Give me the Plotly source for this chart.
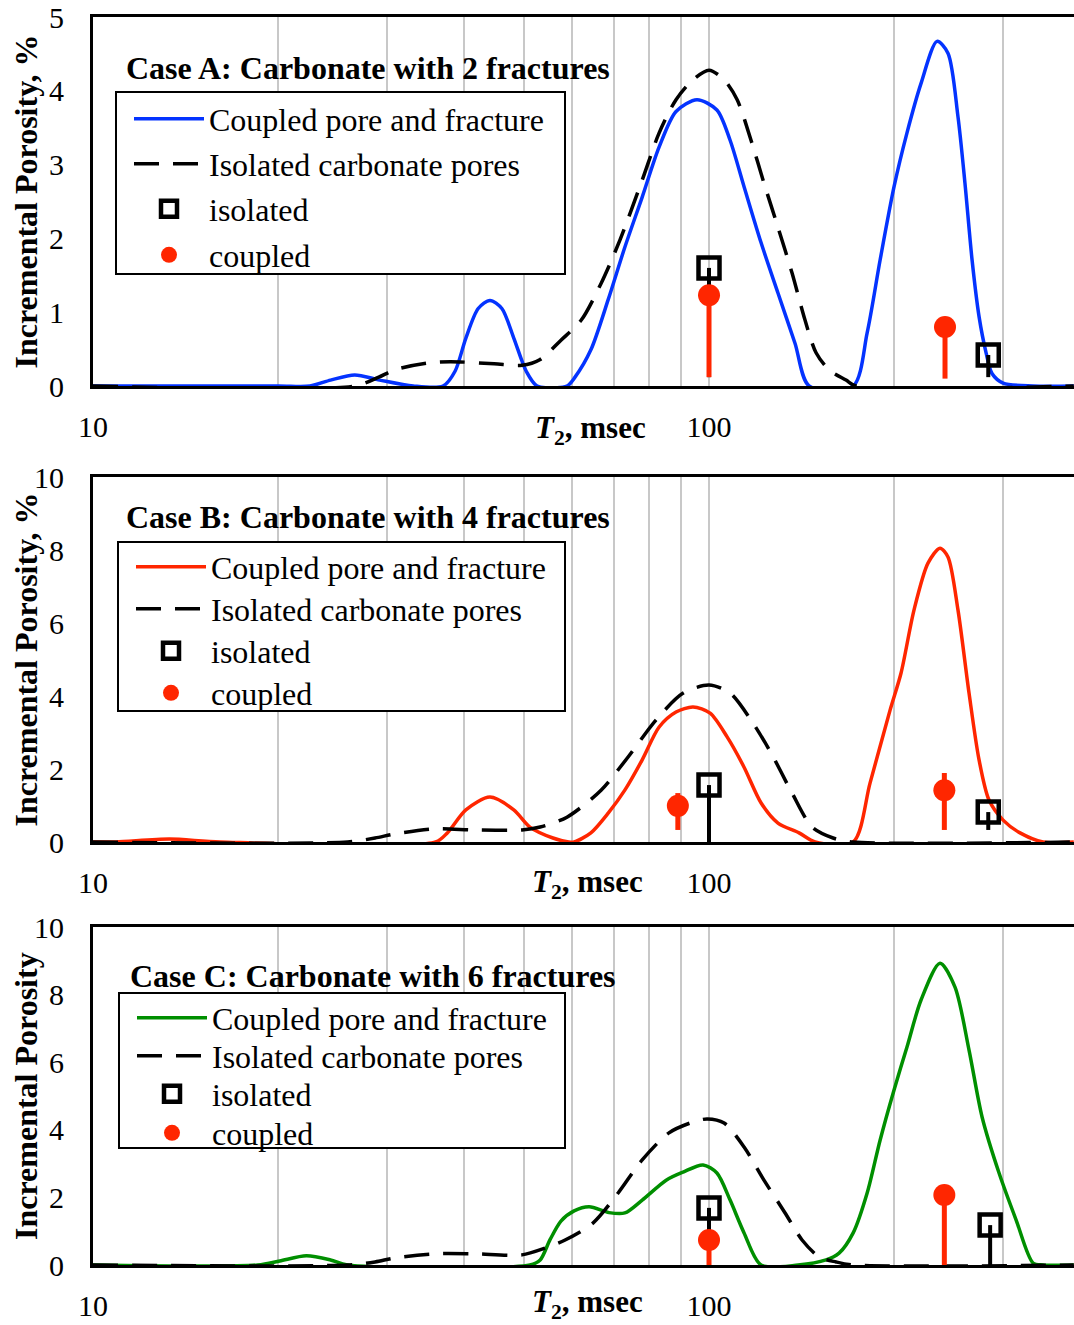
import plotly.graph_objects as go

# ---------------- data ----------------
# Case A: carbonate with 2 fractures
a_cpl_t2 = [10, 20, 22.5, 24.3, 26.6, 29.2, 33.1, 37.0, 38.7, 40.3, 42.2, 44.1, 46.1, 48.2, 50.5, 52.6,
            58.8, 60.6, 64.3, 68.6, 73.0, 77.9, 83.0, 88.4, 95.6, 103.0, 108.2, 114.0, 121.5, 129.4, 137.9, 145.4,
            171.4, 180.6, 189.6, 199.7, 209.6, 220.9, 234.5, 244.3, 253.6, 260.3, 267.3, 274.4, 281.7, 288.0,
            300.2, 335.7, 391]
a_cpl_val = [0, 0, 0, 0.08, 0.15, 0.08, 0, 0, 0.2, 0.65, 1.05, 1.16, 1.05, 0.65, 0.2, 0,
             0, 0.12, 0.49, 1.17, 1.88, 2.56, 3.24, 3.72, 3.88, 3.74, 3.33, 2.70, 1.94, 1.26, 0.58, 0,
             0, 0.72, 1.71, 2.70, 3.43, 4.10, 4.67, 4.51, 3.65, 2.75, 1.71, 0.94, 0.45, 0.17,
             0.04, 0, 0]
a_iso_t2 = [10, 26.6, 29.1, 30.9, 34.8, 38.0, 44.8, 49.7, 53.2, 57.5, 62.0, 66.8, 71.7, 77.9, 83.0, 88.4,
            94.2, 100, 105.8, 111.1, 117.0, 122.8, 129.4, 136.4, 143.2, 149.2, 156.6, 166.9, 173.3, 391]
a_iso_val = [0, 0, 0.12, 0.22, 0.31, 0.33, 0.30, 0.28, 0.36, 0.62, 0.89, 1.39, 1.98, 2.79, 3.43, 3.88,
             4.15, 4.28, 4.15, 3.88, 3.33, 2.75, 2.15, 1.53, 0.89, 0.45, 0.22, 0.08, 0, 0]
a_pt_iso_t2 = [100, 284]
a_pt_iso_val = [1.60, 0.42]
a_pt_iso_low = [0.12, 0.12]
a_pt_iso_high = [1.60, 0.42]
a_pt_cpl_t2 = [100, 241.6]
a_pt_cpl_val = [1.23, 0.80]
a_pt_cpl_low = [0.12, 0.10]
a_pt_cpl_high = [1.23, 0.80]

# Case B: carbonate with 4 fractures
b_cpl_t2 = [10, 10.9, 13.3, 16.1, 36.0, 37.6, 40.3, 44.1, 48.2, 51.2, 55.8, 59.2,
            60.4, 64.3, 68.6, 73.0, 77.9, 83.0, 88.4, 94.2, 100.4, 107.0, 114.0, 121.5, 129.4, 140.0, 148.7,
            171.4, 182.6, 196.8, 205.0, 215.2, 226.7, 237.1, 244.3, 253.6, 264.3, 274.4, 284.8, 300.2,
            319.8, 348.5, 391]
b_cpl_val = [0, 0, 0.08, 0, 0, 0.25, 0.88, 1.23, 0.88, 0.41, 0.11, 0,
             0, 0.25, 0.79, 1.42, 2.25, 3.15, 3.56, 3.70, 3.53, 2.88, 2.05, 1.07, 0.52, 0.25, 0,
             0, 1.62, 3.62, 4.63, 6.36, 7.64, 8.05, 7.81, 6.36, 4.08, 2.25, 1.15, 0.60,
             0.25, 0, 0]
b_iso_t2 = [10, 25.9, 28.7, 30.9, 35.9, 41.6, 49.7, 53.2, 58.8, 66.8, 73.9, 82.0, 90.8, 100, 108.2,
            117.0, 126.1, 136.4, 147.0, 159.0, 171.4, 391]
b_iso_val = [0, 0, 0.11, 0.22, 0.36, 0.33, 0.33, 0.41, 0.68, 1.42, 2.33, 3.34, 4.08, 4.30, 4.08,
             3.34, 2.44, 1.34, 0.41, 0.11, 0, 0]
b_pt_iso_t2 = [100, 284]
b_pt_iso_val = [1.56, 0.82]
b_pt_iso_low = [0, 0.33]
b_pt_iso_high = [1.56, 0.82]
b_pt_cpl_t2 = [89, 241]
b_pt_cpl_val = [0.99, 1.42]
b_pt_cpl_low = [0.33, 0.33]
b_pt_cpl_high = [1.34, 1.89]

# Case C: carbonate with 6 fractures
c_cpl_t2 = [10, 18.5, 20.1, 22.2, 24.3, 25.9, 51.2, 53.2, 55.2, 57.5, 60.4, 63.9, 68.8, 73.0, 77.9,
            85.2, 90.8, 97.8, 103.0, 108.2, 114.0, 121.5, 139.5, 154.9, 162.6, 171.4, 180.6, 189.6,
            199.7, 209.6, 220.9, 237.1, 250.8, 264.3, 277.5, 295.7, 315.2, 335.7, 348.5, 391]
c_cpl_val = [0, 0, 0.12, 0.27, 0.15, 0, 0, 0.15, 0.75, 1.30, 1.60, 1.72, 1.55, 1.54, 1.92,
             2.51, 2.75, 2.96, 2.72, 1.92, 0.95, 0, 0, 0.15, 0.35, 0.95, 2.13, 3.70,
             5.18, 6.45, 7.84, 8.93, 8.22, 6.36, 4.38, 2.72, 1.33, 0.06, 0, 0]
c_iso_t2 = [10, 25.9, 28.7, 30.9, 35.9, 41.6, 49.7, 54.2, 58.4, 64.8, 71.2, 77.9, 86.1, 94.2, 99.3,
            105.8, 114.0, 122.8, 132.9, 141.6, 150.9, 160.8, 171.4, 391]
c_iso_val = [0, 0, 0.09, 0.21, 0.33, 0.33, 0.30, 0.50, 0.74, 1.24, 2.13, 3.11, 3.91, 4.23, 4.32,
             4.20, 3.49, 2.51, 1.54, 0.74, 0.24, 0.09, 0, 0]
c_pt_iso_t2 = [100, 286]
c_pt_iso_val = [1.69, 1.18]
c_pt_iso_low = [0.95, 0]
c_pt_iso_high = [1.69, 1.18]
c_pt_cpl_t2 = [100, 241]
c_pt_cpl_val = [0.74, 2.07]
c_pt_cpl_low = [0, 0]
c_pt_cpl_high = [0.74, 2.07]

x_grid_vals = [10, 20, 30, 40, 50, 60, 70, 80, 90, 100, 200, 300]
x_grid_text = ["10", "", "", "", "", "", "", "", "", "100", "", ""]

# ---------------- styling ----------------
W, H = 1074, 1325
L_MARGIN = 93
FONT = "Liberation Serif, Times New Roman, serif"
BLUE, RED, GREEN, BLACK = "#0433FF", "#FF2600", "#008F00", "#000000"


def px_x(px):
    return (px - L_MARGIN) / (W - L_MARGIN)


def px_y(py):
    return 1 - py / H


panels = [
    dict(cpl=(a_cpl_t2, a_cpl_val), iso=(a_iso_t2, a_iso_val),
         piso=(a_pt_iso_t2, a_pt_iso_val, a_pt_iso_low, a_pt_iso_high),
         pcpl=(a_pt_cpl_t2, a_pt_cpl_val, a_pt_cpl_low, a_pt_cpl_high),
         color=BLUE, top=17, bottom=386, ymax=5, dtick=1,
         title="Case A: Carbonate with 2 fractures", title_pos=(124, 68),
         ytitle="Incremental Porosity, %",
         box=(116, 92, 565, 274), rows=(119, 164, 209, 255),
         t2_pos=(590, 430)),
    dict(cpl=(b_cpl_t2, b_cpl_val), iso=(b_iso_t2, b_iso_val),
         piso=(b_pt_iso_t2, b_pt_iso_val, b_pt_iso_low, b_pt_iso_high),
         pcpl=(b_pt_cpl_t2, b_pt_cpl_val, b_pt_cpl_low, b_pt_cpl_high),
         color=RED, top=477, bottom=842, ymax=10, dtick=2,
         title="Case B: Carbonate with 4 fractures", title_pos=(124, 517),
         ytitle="Incremental Porosity, %",
         box=(118, 542, 565, 711), rows=(567, 609, 651, 693),
         t2_pos=(587, 884)),
    dict(cpl=(c_cpl_t2, c_cpl_val), iso=(c_iso_t2, c_iso_val),
         piso=(c_pt_iso_t2, c_pt_iso_val, c_pt_iso_low, c_pt_iso_high),
         pcpl=(c_pt_cpl_t2, c_pt_cpl_val, c_pt_cpl_low, c_pt_cpl_high),
         color=GREEN, top=927, bottom=1265, ymax=10, dtick=2,
         title="Case C: Carbonate with 6 fractures", title_pos=(128, 976),
         ytitle="Incremental Porosity",
         box=(119, 993, 565, 1148), rows=(1018, 1056, 1094, 1133),
         t2_pos=(587, 1304)),
]

fig = go.Figure()
layout = dict(
    width=W, height=H, margin=dict(l=L_MARGIN, r=0, t=0, b=0, autoexpand=False),
    paper_bgcolor="white", plot_bgcolor="white", showlegend=True,
    font=dict(family=FONT, color="black", size=30),
    annotations=[], shapes=[],
)

legend_count = 0


def next_legend():
    global legend_count
    legend_count += 1
    return "legend" if legend_count == 1 else f"legend{legend_count}"


for i, p in enumerate(panels):
    n = "" if i == 0 else str(i + 1)
    xa, ya = "x" + n, "y" + n
    legs = [next_legend() for _ in range(4)]

    fig.add_trace(go.Scatter(
        x=p["cpl"][0], y=p["cpl"][1], mode="lines", name="Coupled pore and fracture",
        line=dict(color=p["color"], width=3.5, shape="spline", smoothing=0.8),
        xaxis=xa, yaxis=ya, legend=legs[0], showlegend=True))
    fig.add_trace(go.Scatter(
        x=p["iso"][0], y=p["iso"][1], mode="lines", name="Isolated carbonate pores",
        line=dict(color=BLACK, width=3.5, dash="25px,14px", shape="spline", smoothing=0.8),
        xaxis=xa, yaxis=ya, legend=legs[1], showlegend=True))

    t, v, lo, hi = p["piso"]
    fig.add_trace(go.Scatter(
        x=t, y=v, mode="markers", name="isolated",
        marker=dict(symbol="square-open", size=21, color=BLACK, line=dict(width=4.5, color=BLACK)),
        error_y=dict(type="data", symmetric=False,
                     array=[h - y for h, y in zip(hi, v)],
                     arrayminus=[y - l for y, l in zip(v, lo)],
                     width=0, thickness=4, color=BLACK),
        xaxis=xa, yaxis=ya, legend=legs[2], showlegend=True))

    t, v, lo, hi = p["pcpl"]
    fig.add_trace(go.Scatter(
        x=t, y=v, mode="markers", name="coupled",
        marker=dict(symbol="circle", size=22, color=RED),
        error_y=dict(type="data", symmetric=False,
                     array=[h - y for h, y in zip(hi, v)],
                     arrayminus=[y - l for y, l in zip(v, lo)],
                     width=0, thickness=5, color=RED),
        xaxis=xa, yaxis=ya, legend=legs[3], showlegend=True))

    ydom = [px_y(p["bottom"]), px_y(p["top"])]
    layout["xaxis" + n] = dict(
        type="log", range=[1, 2.5925], domain=[0, 1], anchor=ya, automargin=False,
        tickmode="array", tickvals=x_grid_vals, ticktext=x_grid_text,
        showgrid=True, gridcolor="#c8c8c8", gridwidth=1.5,
        showline=True, linecolor=BLACK, linewidth=3, mirror=True,
        ticks="", ticklabelstandoff=12, zeroline=False,
        tickfont=dict(family=FONT, size=30, color=BLACK))
    layout["yaxis" + n] = dict(
        range=[0, p["ymax"]], dtick=p["dtick"], domain=ydom, anchor=xa, automargin=False,
        showgrid=False, zeroline=False,
        showline=True, linecolor=BLACK, linewidth=3,
        ticks="", ticklabelstandoff=20,
        tickfont=dict(family=FONT, size=30, color=BLACK))

    # legend frame (white box over the plot area); one legend row per trace on top of it
    bx0, by0, bx1, by1 = p["box"]
    layout["shapes"].append(dict(
        type="rect", xref="paper", yref="paper",
        x0=px_x(bx0), x1=px_x(bx1), y0=px_y(by1), y1=px_y(by0),
        fillcolor="white", line=dict(color=BLACK, width=2), layer="above"))
    for leg, row_y in zip(legs, p["rows"]):
        layout[leg] = dict(
            visible=True,
            x=px_x(bx0 + 13), y=px_y(row_y),
            xanchor="left", yanchor="middle",
            bgcolor="rgba(0,0,0,0)", borderwidth=0,
            font=dict(family=FONT, size=32, color=BLACK),
            itemwidth=70)

    layout["annotations"] += [
        dict(text="<b>" + p["title"] + "</b>", xref="paper", yref="paper",
             x=px_x(p["title_pos"][0]), y=px_y(p["title_pos"][1]),
             xanchor="left", yanchor="middle", showarrow=False,
             font=dict(family=FONT, size=32, color=BLACK)),
        dict(text="<b>" + p["ytitle"] + "</b>", xref="paper", yref="paper",
             x=px_x(26), y=px_y((p["top"] + p["bottom"]) / 2),
             xanchor="center", yanchor="middle", textangle=-90, showarrow=False,
             font=dict(family=FONT, size=32, color=BLACK)),
        dict(text="<b><i>T</i><sub>2</sub>, msec</b>", xref="paper", yref="paper",
             x=px_x(p["t2_pos"][0]), y=px_y(p["t2_pos"][1]),
             xanchor="center", yanchor="middle", showarrow=False,
             font=dict(family=FONT, size=31, color=BLACK)),
    ]

fig.update_layout(**layout)
fig.write_html("out.html")
